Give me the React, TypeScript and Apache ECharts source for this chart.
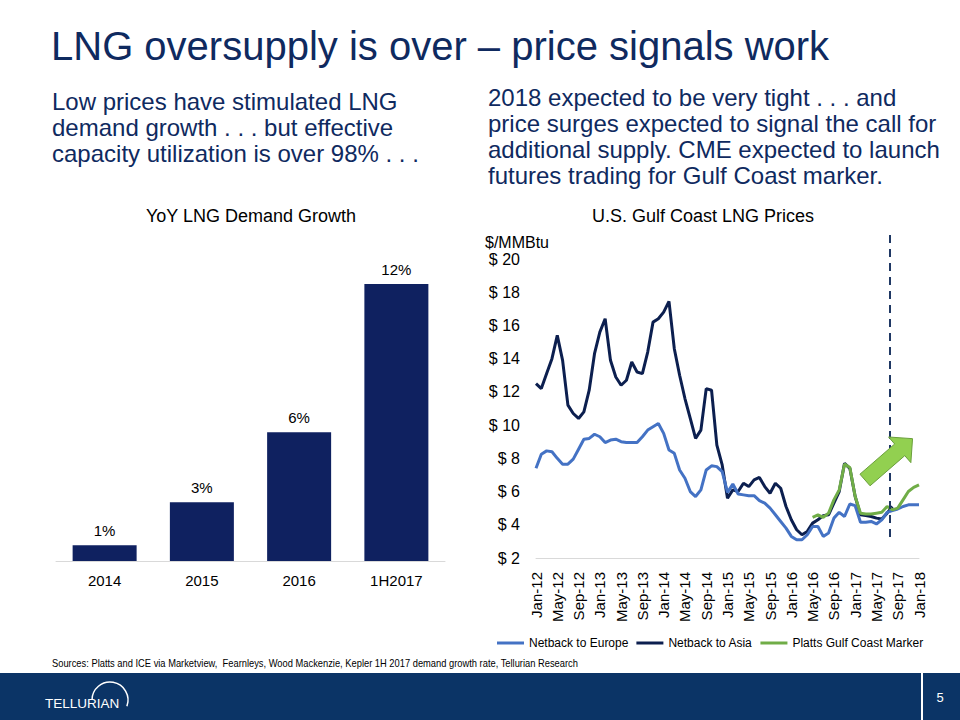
import React, { useEffect, useRef } from "react";
import * as echarts from "echarts";

const FONT = "'Liberation Sans', Arial, Helvetica, sans-serif";
const HEAD_COLOR = "#0f2a5f";

// ---------- Left chart: YoY LNG demand growth ----------
const BAR_CATEGORIES = ["2014", "2015", "2016", "1H2017"];
const BAR_VALUES = [0.68, 2.55, 5.58, 12.0];

// ---------- Right chart: U.S. Gulf Coast LNG prices ----------
const MONTH_NAMES = ["Jan", "Feb", "Mar", "Apr", "May", "Jun", "Jul", "Aug", "Sep", "Oct", "Nov", "Dec"];
const YEARS = ["12", "13", "14", "15", "16", "17", "18"];
const MONTHS = YEARS.flatMap((y) => MONTH_NAMES.map((m) => `${m}-${y}`)).slice(0, 73);

const PRICE_MIN = 2;
const PRICE_MAX = 20;
const PRICE_INTERVAL = 2;

const EUROPE = [
  7.4, 8.25, 8.45, 8.4, 8.0, 7.65, 7.65, 7.95, 8.55, 9.15,
  9.2, 9.45, 9.3, 8.95, 9.1, 9.15, 9.0, 8.95, 8.95, 8.95,
  9.3, 9.7, 9.9, 10.1, 9.5, 8.5, 8.3, 7.3, 6.8, 6.0,
  5.7, 6.1, 7.3, 7.55, 7.5, 7.2, 5.95, 6.45, 5.85, 5.8,
  5.75, 5.75, 5.45, 5.3, 5.0, 4.6, 4.2, 3.8, 3.3, 3.1,
  3.1, 3.4, 3.9, 3.9, 3.3, 3.5, 4.4, 4.75, 4.5, 5.25,
  5.15, 4.15, 4.15, 4.2, 4.05, 4.3, 4.75, 4.85, 4.95, 5.1,
  5.2, 5.2, 5.2,
];

const ASIA = [
  12.5, 12.2, 13.1, 14.0, 15.4, 13.9, 11.2, 10.7, 10.4, 10.8,
  12.1, 14.3, 15.6, 16.4, 13.9, 12.9, 12.4, 12.7, 13.8, 13.2,
  13.1, 14.4, 16.2, 16.4, 16.8, 17.45, 14.6, 13.0, 11.6, 10.4,
  9.2, 9.7, 12.2, 12.1, 8.8, 7.6, 5.6, 6.1, 6.0, 6.5,
  6.3, 6.7, 6.85, 6.3, 5.9, 6.5, 6.2, 5.1, 4.3, 3.7,
  3.4, 3.6, 4.1, 4.3, 4.55, 4.6, 5.3, 6.0, 7.7, 7.4,
  5.7, 4.6, 4.55, 4.5, 4.4, 4.35, 4.7, 5.1,
  null, null, null, null, null,
];

const PLATTS = [
  null, null, null, null, null, null, null, null, null, null,
  null, null, null, null, null, null, null, null, null, null,
  null, null, null, null, null, null, null, null, null, null,
  null, null, null, null, null, null, null, null, null, null,
  null, null, null, null, null, null, null, null, null, null,
  null, null, 4.45, 4.6, 4.45, 4.7, 5.5, 6.1, 7.65, 7.45,
  5.7, 4.7, 4.65, 4.65, 4.7, 4.75, 5.1, 4.9, 5.0, 5.5,
  6.0, 6.25, 6.4,
];

const SERIES_NAMES = ["Netback to Europe", "Netback to Asia", "Platts Gulf Coast Marker"];
const SERIES_COLORS = ["#4472c4", "#0c1f4f", "#70ad47"];

// forecast divider sits between these two months
const DIVIDER_MONTHS = ["Jul-17", "Aug-17"];

const LEFT_TEXT = [
  "Low prices have stimulated LNG",
  "demand growth . . . but effective",
  "capacity utilization is over 98% . . .",
];
const RIGHT_TEXT = [
  "2018 expected to be very tight . . . and",
  "price surges expected to signal the call for",
  "additional supply. CME expected to launch",
  "futures trading for Gulf Coast marker.",
];

function arrowPoints(ox: number, oy: number, angleDeg: number) {
  const a = (angleDeg * Math.PI) / 180;
  const ux = Math.cos(a), uy = Math.sin(a);
  const nx = -uy, ny = ux;
  const local: [number, number][] = [
    [0, -7.7], [46, -7.7], [46, -17], [63, 0], [46, 17], [46, 7.7], [0, 7.7],
  ];
  return local.map(([t, s]) => [ox + t * ux + s * nx, oy + t * uy + s * ny]);
}

export default function App() {
  const ref = useRef<HTMLDivElement>(null);

  useEffect(() => {
    if (!ref.current) return;
    const chart = echarts.init(ref.current, undefined, { renderer: "svg" });

    const baseText = { fontFamily: FONT, color: "#000" };

    chart.setOption({
      animation: false,
      backgroundColor: "#fff",
      textStyle: { fontFamily: FONT },
      legend: {
        data: SERIES_NAMES,
        left: 492,
        top: 632,
        icon: "rect",
        itemWidth: 27,
        itemHeight: 3,
        itemGap: 8,
        textStyle: { ...baseText, fontSize: 12 },
      },
      grid: [
        { left: 56, top: 284, width: 389, height: 277 },
        { left: 536, top: 259, width: 383, height: 299 },
      ],
      xAxis: [
        {
          type: "category",
          gridIndex: 0,
          data: BAR_CATEGORIES,
          axisTick: { show: false },
          axisLine: { lineStyle: { color: "#d9d9d9", width: 1 } },
          axisLabel: { ...baseText, fontSize: 15, margin: 12 },
        },
        {
          type: "category",
          gridIndex: 1,
          data: MONTHS,
          boundaryGap: false,
          axisTick: { show: false },
          axisLine: { lineStyle: { color: "#d9d9d9", width: 1 } },
          axisLabel: { ...baseText, fontSize: 15, interval: 3, rotate: 90, margin: 14 },
        },
      ],
      yAxis: [
        {
          type: "value",
          gridIndex: 0,
          min: 0,
          max: 12,
          show: false,
          splitLine: { show: false },
        },
        {
          type: "value",
          gridIndex: 1,
          min: PRICE_MIN,
          max: PRICE_MAX,
          interval: PRICE_INTERVAL,
          axisLine: { show: false },
          axisTick: { show: false },
          splitLine: { show: false },
          axisLabel: { ...baseText, fontSize: 16, margin: 16, formatter: (v: number) => `$ ${v}` },
        },
      ],
      series: [
        {
          type: "bar",
          xAxisIndex: 0,
          yAxisIndex: 0,
          data: BAR_VALUES,
          barWidth: 64,
          itemStyle: { color: "#0f2160" },
          label: {
            show: true,
            position: "top",
            distance: 7,
            ...baseText,
            fontSize: 15,
            formatter: (p: any) => `${Math.round(p.value)}%`,
          },
        },
        {
          name: SERIES_NAMES[0],
          type: "line",
          xAxisIndex: 1,
          yAxisIndex: 1,
          data: EUROPE,
          showSymbol: false,
          z: 3,
          lineStyle: { color: SERIES_COLORS[0], width: 3 },
          itemStyle: { color: SERIES_COLORS[0] },
        },
        {
          name: SERIES_NAMES[1],
          type: "line",
          xAxisIndex: 1,
          yAxisIndex: 1,
          data: ASIA,
          showSymbol: false,
          z: 2,
          lineStyle: { color: SERIES_COLORS[1], width: 3 },
          itemStyle: { color: SERIES_COLORS[1] },
        },
        {
          name: SERIES_NAMES[2],
          type: "line",
          xAxisIndex: 1,
          yAxisIndex: 1,
          data: PLATTS,
          showSymbol: false,
          z: 4,
          lineStyle: { color: SERIES_COLORS[2], width: 3 },
          itemStyle: { color: SERIES_COLORS[2] },
        },
      ],
    });

    const xa = chart.convertToPixel({ xAxisIndex: 1 }, DIVIDER_MONTHS[0]) as number;
    const xb = chart.convertToPixel({ xAxisIndex: 1 }, DIVIDER_MONTHS[1]) as number;
    const divX = Math.round((xa + xb) / 2);

    const textEl = (
      text: string,
      x: number,
      y: number,
      size: number,
      fill: string,
      align = "left",
      scaleX = 1
    ) => ({
      type: "text",
      x,
      y,
      scaleX,
      silent: true,
      style: {
        text,
        fill,
        font: `${size}px ${FONT}`,
        fontSize: size,
        fontFamily: FONT,
        align,
        textAlign: align,
        verticalAlign: "middle",
        textVerticalAlign: "middle",
      },
    });

    chart.setOption({
      graphic: [
        textEl("LNG oversupply is over – price signals work", 51, 46, 40, HEAD_COLOR),
        ...LEFT_TEXT.map((t, i) => textEl(t, 52, 101 + i * 26, 24, HEAD_COLOR)),
        ...RIGHT_TEXT.map((t, i) => textEl(t, 488, 97 + i * 26, 24, HEAD_COLOR)),
        textEl("YoY LNG Demand Growth", 251, 216, 18, "#000", "center"),
        textEl("U.S. Gulf Coast LNG Prices", 703, 216, 18, "#000", "center"),
        textEl("$/MMBtu", 485, 242, 16, "#000"),
        {
          type: "line",
          silent: true,
          shape: { x1: divX, y1: 235, x2: divX, y2: 541 },
          style: { stroke: "#1f3864", lineWidth: 2, lineDash: [8, 6] },
          z: 10,
        },
        {
          type: "polygon",
          silent: true,
          shape: { points: arrowPoints(865, 480, -41) },
          style: { fill: "#92d050", stroke: "#6a9f3c", lineWidth: 1 },
          z: 11,
        },
        textEl(
          "Sources: Platts and ICE via Marketview,  Fearnleys, Wood Mackenzie, Kepler 1H 2017 demand growth rate, Tellurian Research",
          52, 663, 10.5, "#000", "left", 0.89
        ),
        {
          type: "rect",
          silent: true,
          shape: { x: 0, y: 673, width: 960, height: 47 },
          style: { fill: "#0b3466" },
          z: 1,
        },
        {
          type: "rect",
          silent: true,
          shape: { x: 921, y: 673, width: 2, height: 47 },
          style: { fill: "#ffffff" },
          z: 2,
        },
        { ...textEl("5", 940, 697, 13, "#ffffff", "center"), z: 3 },
        { ...textEl("TELLURIAN", 45, 703, 13.5, "#ffffff"), z: 3 },
        {
          type: "arc",
          silent: true,
          shape: { cx: 110, cy: 700, r: 18, startAngle: Math.PI, endAngle: 2 * Math.PI + 0.35, clockwise: true },
          style: { stroke: "#ffffff", lineWidth: 1.5, fill: "none" },
          z: 3,
        },
      ],
    });

    return () => chart.dispose();
  }, []);

  return (
    <div
      ref={ref}
      style={{ position: "absolute", left: 0, top: 0, width: 960, height: 720 }}
    />
  );
}
